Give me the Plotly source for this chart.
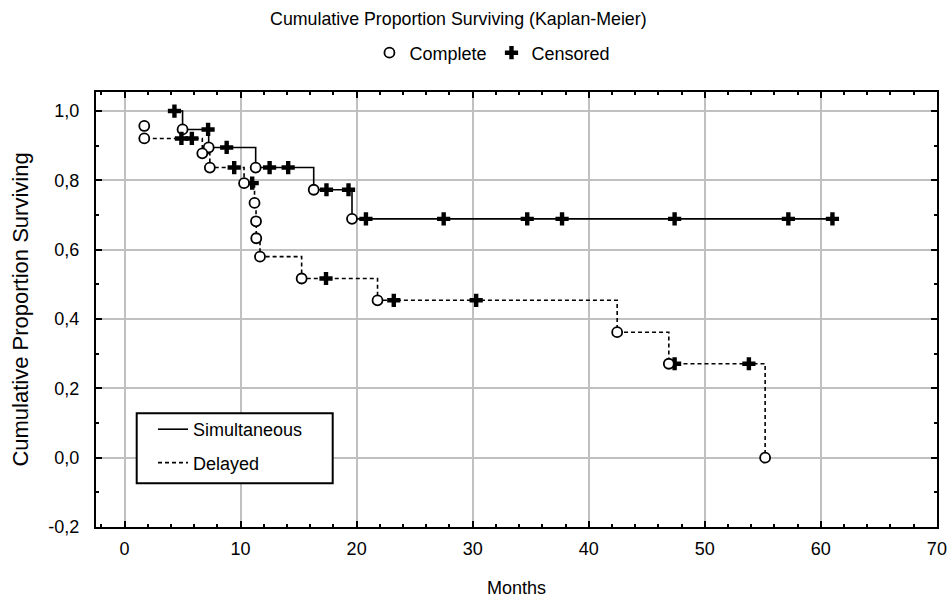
import numpy as np
import plotly.graph_objects as go

# ---- data ----
sim_time = [4.3, 5.0, 7.2, 7.25, 8.8, 11.3, 12.5, 14.1, 16.3, 17.4, 19.3, 19.6,
            20.8, 27.5, 34.7, 37.7, 47.4, 57.2, 61.0]
sim_surv = [1.0, 0.947, 0.947, 0.895, 0.895, 0.837, 0.837, 0.837, 0.773, 0.773,
            0.773, 0.689, 0.689, 0.689, 0.689, 0.689, 0.689, 0.689, 0.689]
sim_complete = [0, 1, 0, 1, 0, 1, 0, 0, 1, 0, 0, 1, 0, 0, 0, 0, 0, 0, 0]

del_time = [1.7, 1.7, 4.9, 5.8, 6.7, 7.35, 9.45, 10.3, 11.0, 11.2, 11.33, 11.35,
            11.67, 15.26, 17.36, 21.8, 23.2, 30.3, 42.45, 46.9, 47.4, 53.8, 55.2]
del_surv = [0.957, 0.921, 0.921, 0.921, 0.878, 0.837, 0.837, 0.792, 0.792, 0.735,
            0.682, 0.633, 0.580, 0.517, 0.517, 0.454, 0.454, 0.454, 0.362, 0.271,
            0.271, 0.271, 0.0]
del_complete = [1, 1, 0, 0, 1, 1, 0, 1, 0, 1, 1, 1, 1, 1, 0, 1, 0, 0, 1, 1, 0, 0, 1]

x_ticks = [0, 10, 20, 30, 40, 50, 60, 70]
y_ticks = [-0.2, 0.0, 0.2, 0.4, 0.6, 0.8, 1.0]
y_tick_text = ["-0,2", "0,0", "0,2", "0,4", "0,6", "0,8", "1,0"]

FONT = "Liberation Sans, Arial, sans-serif"
FS = 18

fig = go.Figure()

groups = [
    ("Simultaneous", sim_time, sim_surv, sim_complete, "solid", True),
    ("Delayed", del_time, del_surv, del_complete, "4px,3px", False),
]

for name, t, s, c, dash, show_marker_legend in groups:
    fig.add_trace(go.Scatter(
        x=np.array(t), y=np.array(s), mode="lines", name=name, line_shape="hv",
        line=dict(color="black", width=1.6, dash=dash),
        legend="legend", legendgroup=name, hoverinfo="skip"))

for name, t, s, c, dash, show_marker_legend in groups:
    t = np.array(t)
    s = np.array(s)
    c = np.array(c, dtype=bool)
    fig.add_trace(go.Scatter(
        x=t[~c], y=s[~c], mode="markers", name="Censored",
        marker=dict(symbol="cross", size=11, color="black",
                    line=dict(width=0)),
        legend="legend2", legendgroup="cens", showlegend=show_marker_legend,
        legendrank=2))
    fig.add_trace(go.Scatter(
        x=t[c], y=s[c], mode="markers", name="Complete",
        marker=dict(symbol="circle", size=10, color="white",
                    line=dict(width=1.8, color="black")),
        legend="legend2", legendgroup="comp", showlegend=show_marker_legend,
        legendrank=1))

axis_common = dict(
    showline=True, linecolor="black", linewidth=2, mirror="ticks",
    ticks="inside", ticklen=6, tickwidth=2, tickcolor="black",
    showgrid=True, gridcolor="#c0c0c0", gridwidth=2, zeroline=False,
    automargin=False, ticklabeloverflow="allow",
    tickfont=dict(family=FONT, size=FS, color="black"),
)

fig.update_xaxes(
    range=[-2.46, 70.01], tickvals=x_ticks, ticklabelstandoff=4,
    title=dict(text="Months", font=dict(family=FONT, size=FS, color="black"),
               standoff=29),
    minor=dict(dtick=2, ticks="inside", ticklen=3, tickwidth=2,
               tickcolor="black", showgrid=False),
    **axis_common)
fig.update_yaxes(
    range=[-0.2, 1.055], tickvals=y_ticks, ticktext=y_tick_text,
    ticklabelstandoff=11,
    title=dict(text="Cumulative Proportion Surviving",
               font=dict(family=FONT, size=22, color="black"), standoff=14),
    minor=dict(dtick=0.1, ticks="inside", ticklen=3, tickwidth=2,
               tickcolor="black", showgrid=False),
    **axis_common)

# inner legend box
fig.add_shape(type="rect", xref="paper", yref="paper",
              x0=(136.7 - 96) / 841, x1=(332.7 - 96) / 841,
              y0=(527 - 483.3) / 435, y1=(527 - 413.3) / 435,
              line=dict(color="black", width=2), fillcolor="white",
              layer="above")

fig.update_layout(
    width=947, height=598,
    margin=dict(l=96, r=10, t=92, b=71, autoexpand=False),
    plot_bgcolor="white", paper_bgcolor="white",
    font=dict(family=FONT, size=FS, color="black"),
    title=dict(text="Cumulative Proportion Surviving (Kaplan-Meier)",
               x=0.484, xanchor="center", y=1 - 19 / 598, yanchor="middle",
               font=dict(family=FONT, size=17.8, color="black")),
    legend=dict(x=(153 - 96) / 841, y=(527 - 411) / 435,
                xanchor="left", yanchor="top",
                xref="paper", yref="paper",
                bgcolor="rgba(0,0,0,0)", borderwidth=0,
                tracegroupgap=7,
                font=dict(family=FONT, size=FS, color="black")),
    legend2=dict(orientation="h", x=0.52, xanchor="center",
                 y=1 - 53 / 598, yanchor="middle",
                 xref="container", yref="container",
                 bgcolor="rgba(0,0,0,0)", traceorder="normal",
                 font=dict(family=FONT, size=FS, color="black")),
    showlegend=True,
)

fig.write_html("out.html",
               config={"displayModeBar": False},
               post_script="document.body.style.margin='0px';"
                           "document.body.style.padding='0px';")
